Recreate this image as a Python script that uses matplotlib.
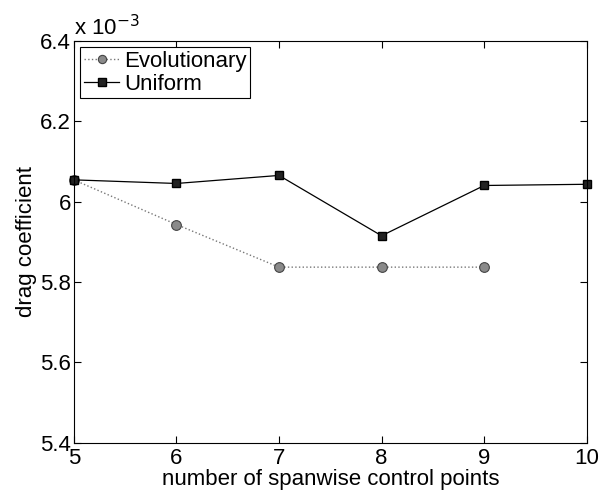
import matplotlib
matplotlib.use("Agg")
import matplotlib.pyplot as plt

plt.rcParams.update({
    "font.family": ["Liberation Sans", "DejaVu Sans"],
    "font.size": 16,
    "xtick.direction": "in",
    "ytick.direction": "in",
    "xtick.top": True,
    "ytick.right": True,
})

# drag coefficient in units of 1e-3
n_evo = [5, 6, 7, 8, 9]
cd_evo = [6.054, 5.943, 5.837, 5.837, 5.837]
n_uni = [5, 6, 7, 8, 9, 10]
cd_uni = [6.054, 6.045, 6.065, 5.915, 6.040, 6.043]

fig = plt.figure(figsize=(6.0, 4.96), dpi=100)
ax = fig.add_axes([0.123, 0.107, 0.855, 0.811])

ax.plot(n_evo, cd_evo, linestyle=":", color="#777777", linewidth=1.0,
        marker="o", markersize=7, markerfacecolor="#8a8a8a",
        markeredgecolor="#444444", markeredgewidth=0.8, label="Evolutionary",
        clip_on=False)
ax.plot(n_uni, cd_uni, linestyle="-", color="black", linewidth=0.9,
        marker="s", markersize=6, markerfacecolor="#222222",
        markeredgecolor="black", label="Uniform", clip_on=False)

ax.set_xlim(5, 10)
ax.set_ylim(5.4, 6.4)
ax.set_xticks([5, 6, 7, 8, 9, 10])
ax.set_yticks([5.4, 5.6, 5.8, 6.0, 6.2, 6.4])
ax.set_yticklabels(["5.4", "5.6", "5.8", "6", "6.2", "6.4"])
ax.tick_params(length=5, width=0.8)
ax.tick_params(axis="x", pad=4)
ax.tick_params(axis="y", pad=2)
for s in ax.spines.values():
    s.set_linewidth(0.8)

ax.set_xlabel("number of spanwise control points", labelpad=0)
ax.set_ylabel("drag coefficient", labelpad=2)
ax.text(0.0, 1.0, r"x 10$^{-3}$", transform=ax.transAxes,
        ha="left", va="bottom", fontsize=16)

leg = ax.legend(loc="upper left", fancybox=False, framealpha=1,
                edgecolor="black", borderaxespad=0.3, handlelength=1.6,
                handletextpad=0.2, borderpad=0.15, labelspacing=0.1,
                markerscale=0.85)
leg.get_frame().set_linewidth(0.8)

fig.savefig("out.png", dpi=100)
